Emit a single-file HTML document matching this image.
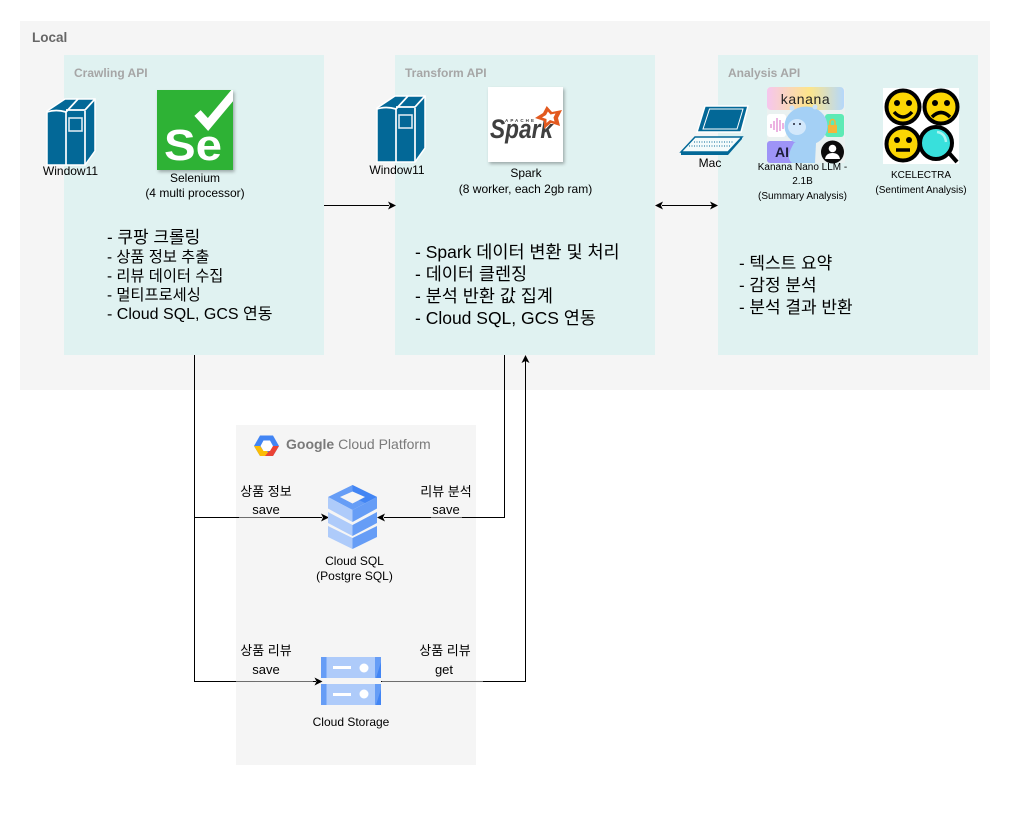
<!DOCTYPE html>
<html><head><meta charset="utf-8"><style>
html,body{margin:0;padding:0;background:#fff}
svg{display:block}
text{font-family:"Liberation Sans","Noto Sans CJK KR",sans-serif;fill:#000}
</style></head><body>
<svg width="1010" height="835" viewBox="0 0 1010 835" xmlns="http://www.w3.org/2000/svg">
<defs>
<linearGradient id="kn" x1="0" x2="1" y1="0" y2="0"><stop offset="0" stop-color="#f6c6ee"/><stop offset=".55" stop-color="#fde58a"/><stop offset="1" stop-color="#b5d8fb"/></linearGradient>
<filter id="sh" x="-10%" y="-10%" width="125%" height="125%"><feDropShadow dx="1.5" dy="2" stdDeviation="1.5" flood-color="#000" flood-opacity=".3"/></filter>
<clipPath id="selclip"><rect x="157" y="90" width="76" height="80"/></clipPath>
<g id="srv">
<path d="M47 111 L65 99 L95 99 L95 151 L85 165 L47 165 Z" fill="#036897" stroke="#fff" stroke-width="1.500"/>
<path d="M66 112 V165 M47 112 Q56 109 66 112 L78 99 M66 110 H85 L95 99 M85 111 V165" fill="none" stroke="#fff" stroke-width="1.700"/>
<rect x="69" y="118" width="13" height="13" fill="none" stroke="#fff" stroke-width="1.600" opacity=".85"/>
</g>
</defs>

<rect x="20" y="21" width="970" height="369" fill="#f5f5f5"/>
<text x="32" y="42" font-size="13.500" font-weight="bold" style="fill:#666">Local</text>

<rect x="64" y="55" width="260" height="300" fill="#e0f2f1"/>
<rect x="395" y="55" width="260" height="300" fill="#e0f2f1"/>
<rect x="718" y="55" width="260" height="300" fill="#e0f2f1"/>
<text x="74" y="77" font-size="12" font-weight="bold" style="fill:#a6a6a6">Crawling API</text>
<text x="405" y="77" font-size="12" font-weight="bold" style="fill:#a6a6a6">Transform API</text>
<text x="728" y="77" font-size="12" font-weight="bold" style="fill:#a6a6a6">Analysis API</text>

<rect x="236" y="425" width="240" height="340" fill="#f5f5f5"/>

<!-- servers -->
<use href="#srv"/>
<use href="#srv" x="330" y="-3"/>
<text x="70.500" y="175" font-size="12" text-anchor="middle">Window11</text>
<text x="397" y="174" font-size="12" text-anchor="middle">Window11</text>

<!-- Selenium -->
<g filter="url(#sh)"><rect x="157" y="90" width="76" height="80" fill="#2fb236"/></g>
<path d="M197.500 113 L208 124.500 L236 91" fill="none" stroke="#fff" stroke-width="8.500" clip-path="url(#selclip)"/>
<text x="164" y="160" font-size="44" font-weight="bold" style="fill:#fff" textLength="58" lengthAdjust="spacingAndGlyphs">Se</text>
<text x="195" y="182" font-size="12" text-anchor="middle">Selenium</text>
<text x="195" y="197" font-size="12" text-anchor="middle">(4 multi processor)</text>

<!-- Spark -->
<g filter="url(#sh)"><rect x="488" y="87" width="75" height="75" fill="#fff"/></g>
<text x="490" y="138" font-size="27" font-weight="bold" font-style="italic" style="fill:#3f3f3f" textLength="63" lengthAdjust="spacingAndGlyphs">Spark</text>
<text x="505" y="122" font-size="4.500" font-weight="bold" style="fill:#3f3f3f" textLength="29">APACHE</text>
<path d="M546.700 106 L552 112 L562 110 L558 118 L560 126 L551 123 L544 129 L544 121 L535 118 L543 113 Z" fill="#e2591f"/>
<path d="M547.900 111.500 L550.500 114.500 L555.500 113.500 L553.500 117.500 L554.500 121.500 L550 120 L546.500 123 L546.500 119 L542 117.500 L546 115 Z" fill="#fff"/>
<text x="526" y="177" font-size="12" text-anchor="middle">Spark</text>
<text x="525.500" y="193" font-size="12" text-anchor="middle">(8 worker, each 2gb ram)</text>

<!-- Mac laptop -->
<path d="M705 106 H748 L741 132 H697 Z" fill="#036897" stroke="#fff" stroke-width="1.500"/>
<path d="M709.500 109 H743 L737 129 H703 Z" fill="#036897" stroke="#fff" stroke-width="1"/>
<path d="M695 137 H742 L728 152 H681 Z" fill="#f4fbfb" stroke="#036897" stroke-width="1.500"/>
<path d="M694 142 H734 M689 146 H730" stroke="#036897" stroke-width="1" stroke-dasharray="1 1.500"/>
<path d="M681 152 H728 V155 H681 Z" fill="#036897"/>
<path d="M728 155 L742 139 V137 L728 152 Z" fill="#036897"/>
<text x="710" y="167" font-size="12" text-anchor="middle">Mac</text>

<!-- Kanana -->
<rect x="767" y="88" width="78" height="75" fill="#f0f0f0" opacity=".6"/>
<rect x="767" y="87" width="77" height="23" rx="4" fill="url(#kn)"/>
<text x="805.500" y="104" font-size="14" text-anchor="middle" style="fill:#222;letter-spacing:.6px">kanana</text>
<rect x="767" y="114" width="19" height="23" rx="3" fill="#fff"/>
<path d="M771 124v4M774 121v9M777 118v14M780 120v11M783 123v6" stroke="#e59ad8" stroke-width="1.500"/>
<rect x="825" y="114" width="19" height="23" rx="3" fill="#5eeab5"/>
<rect x="828" y="125" width="9" height="8" fill="#f4b63c"/>
<path d="M830 125v-3a2.500 2.500 0 0 1 5 0v3" fill="none" stroke="#f4b63c" stroke-width="1.500"/>
<rect x="767" y="141" width="30" height="22" rx="3" fill="#9e94f7"/>
<text x="775" y="157" font-size="14" font-weight="bold" style="fill:#1d1d3a">AI</text>
<ellipse cx="806" cy="126" rx="21.500" ry="19.500" fill="#a4d0f5"/>
<path d="M794 143 Q785 158 792 163 H815 L816 143 Z" fill="#a4d0f5"/>
<circle cx="792" cy="108" r="2.500" fill="#cbe3f9"/><circle cx="815" cy="107" r="2.500" fill="#cbe3f9"/>
<ellipse cx="797" cy="127" rx="9" ry="8" fill="#d3e8fb"/>
<circle cx="794" cy="124" r="1" fill="#223"/><circle cx="800" cy="124" r="1" fill="#223"/>
<circle cx="832.500" cy="152" r="11.500" fill="#0b0b0b"/>
<circle cx="832.500" cy="148.500" r="3.800" fill="#fff"/>
<path d="M825 159 Q826 153 832.500 153 Q839 153 840 159 Z" fill="#fff"/>
<text x="802.500" y="170" font-size="10" text-anchor="middle">Kanana Nano LLM -</text>
<text x="802.500" y="184" font-size="10" text-anchor="middle">2.1B</text>
<text x="802.500" y="199" font-size="10" text-anchor="middle">(Summary Analysis)</text>

<!-- KCELECTRA -->
<rect x="883" y="88" width="76" height="76" fill="#fff"/>
<g stroke="#000" stroke-width="4" fill="#fbd604">
<circle cx="903" cy="107" r="16.500"/><circle cx="941" cy="107" r="16.500"/><circle cx="903" cy="144" r="16.500"/>
</g>
<circle cx="897" cy="103" r="3"/><circle cx="909" cy="103" r="3"/>
<circle cx="935" cy="103" r="3"/><circle cx="947" cy="103" r="3"/>
<circle cx="897" cy="140" r="3"/><circle cx="909" cy="140" r="3"/>
<path d="M894 112 Q903 122 912 112" fill="none" stroke="#000" stroke-width="3.500"/>
<path d="M932 117 Q941 108 950 117" fill="none" stroke="#000" stroke-width="3.500"/>
<path d="M896 150 H910" stroke="#000" stroke-width="3.500"/>
<path d="M949 153 L957 162" stroke="#000" stroke-width="4"/>
<circle cx="936" cy="143" r="16" fill="#38e0dc" stroke="#000" stroke-width="4"/>
<path d="M937 132 Q945 133 946 142" fill="none" stroke="#a8f4f0" stroke-width="2.500"/>
<text x="921" y="178" font-size="10" text-anchor="middle">KCELECTRA</text>
<text x="921" y="193" font-size="10" text-anchor="middle">(Sentiment Analysis)</text>

<!-- bullets -->
<text x="107" y="243" font-size="17">- 쿠팡 크롤링</text>
<text x="107" y="262" font-size="15.300">- 상품 정보 추출</text>
<text x="107" y="281" font-size="15.300">- 리뷰 데이터 수집</text>
<text x="107" y="300" font-size="15.300">- 멀티프로세싱</text>
<text x="107" y="319" font-size="16">- Cloud SQL, GCS 연동</text>
<g font-size="17.500">
<text x="415" y="258">- Spark 데이터 변환 및 처리</text>
<text x="415" y="280">- 데이터 클렌징</text>
<text x="415" y="302">- 분석 반환 값 집계</text>
<text x="415" y="324">- Cloud SQL, GCS 연동</text>
</g>
<g font-size="17">
<text x="739" y="269">- 텍스트 요약</text>
<text x="739" y="291">- 감정 분석</text>
<text x="739" y="313">- 분석 결과 반환</text>
</g>

<!-- connectors -->
<g fill="none" stroke="#000" stroke-width="1">
<path d="M324 205.500 H389"/>
<path d="M662 205.500 H712"/>
<path d="M194.500 355 V681.500 H316"/>
<path d="M194.500 517.500 H322"/>
<path d="M504.500 355 V517.500 H384"/>
<path d="M381 681.500 H525.500 V361"/>
</g>
<g fill="#000">
<path d="M396 205.500 L388 201.500 L390 205.500 L388 209.500 Z"/>
<path d="M655 205.500 L663 201.500 L661 205.500 L663 209.500 Z"/>
<path d="M718 205.500 L710 201.500 L712 205.500 L710 209.500 Z"/>
<path d="M329 517.500 L321 513.500 L323 517.500 L321 521.500 Z"/>
<path d="M377 517.500 L385 513.500 L383 517.500 L385 521.500 Z"/>
<path d="M322.500 681.500 L314.500 677.500 L316.500 681.500 L314.500 685.500 Z"/>
<path d="M525.500 355 L521.500 363 L525.500 361 L529.500 363 Z"/>
</g>
<!-- translucent label backings on lines -->
<g fill="#f5f5f5" opacity=".45">
<rect x="239" y="516" width="41" height="3"/>
<rect x="431" y="516" width="31" height="3"/>
<rect x="236" y="680" width="77" height="3"/>
<rect x="382" y="680" width="101" height="3"/>
</g>

<!-- GCP -->
<path d="M254 446 L260 435.500 H273 L279 446 L273 456 H260 Z" fill="#4285f4"/>
<path d="M254 446 L260 456 H272 L266 450 H263 L260 446 Z" fill="#fbbc05"/>
<path d="M279 446 L273 456 H265 L270 450 L273 446 Z" fill="#ea4335"/>
<path d="M260.500 446 L263.500 440.500 H270 L273 446 L270 451 H263.500 Z" fill="#fff"/>
<text x="286" y="449" font-size="14" style="fill:#7a7a7a"><tspan font-weight="bold">Google</tspan> Cloud Platform</text>

<text x="266" y="496" font-size="13" text-anchor="middle">상품 정보</text>
<text x="266" y="514" font-size="13" text-anchor="middle">save</text>
<text x="446" y="496" font-size="13" text-anchor="middle">리뷰 분석</text>
<text x="446" y="514" font-size="13" text-anchor="middle">save</text>
<text x="266" y="655" font-size="13" text-anchor="middle">상품 리뷰</text>
<text x="266" y="674" font-size="13" text-anchor="middle">save</text>
<text x="445" y="655" font-size="13" text-anchor="middle">상품 리뷰</text>
<text x="444" y="674" font-size="13" text-anchor="middle">get</text>

<!-- Cloud SQL icon -->
<path d="M352.500 485 L377 497 L352.500 510 L328 497 Z" fill="#669df6"/>
<path d="M352.500 485 L377 497 L365 503 L352.500 497 Z" fill="#4285f4"/>
<path d="M340 497 L352.500 491.500 L365 497 L352.500 503.500 Z" fill="#f5f5f5"/>
<path d="M328 497 L352.500 510 V522 L328 508.500 Z" fill="#aecbfa"/>
<path d="M377 497 L352.500 510 V522 L377 508.500 Z" fill="#669df6"/>
<path d="M328 512 L352.500 525 V536 L328 523 Z" fill="#aecbfa"/>
<path d="M377 512 L352.500 525 V536 L377 523 Z" fill="#669df6"/>
<path d="M328 526 L352.500 538 V549 L328 537 Z" fill="#aecbfa"/>
<path d="M377 526 L352.500 538 V549 L377 537 Z" fill="#669df6"/>
<text x="354.500" y="565" font-size="12" text-anchor="middle">Cloud SQL</text>
<text x="354.500" y="580" font-size="12" text-anchor="middle">(Postgre SQL)</text>

<!-- Cloud Storage icon -->
<g>
<rect x="321" y="657" width="60" height="21" fill="#aecbfa"/>
<rect x="321" y="657" width="5.500" height="21" fill="#669df6"/>
<path d="M375 657 H381 V678 H375 Z" fill="#669df6"/>
<path d="M381 657 V662 L376 678 H381 Z" fill="#4285f4"/>
<rect x="333" y="666" width="18" height="3" fill="#fff"/>
<circle cx="364" cy="668" r="4.500" fill="#fff"/>
<rect x="321" y="684" width="60" height="21" fill="#aecbfa"/>
<rect x="321" y="684" width="5.500" height="21" fill="#669df6"/>
<path d="M375 684 H381 V705 H375 Z" fill="#669df6"/>
<path d="M381 684 V689 L376 705 H381 Z" fill="#4285f4"/>
<rect x="333" y="693" width="18" height="3" fill="#fff"/>
<circle cx="364" cy="694" r="4.500" fill="#fff"/>
</g>
<text x="351" y="726" font-size="12" text-anchor="middle">Cloud Storage</text>
</svg>
</body></html>
